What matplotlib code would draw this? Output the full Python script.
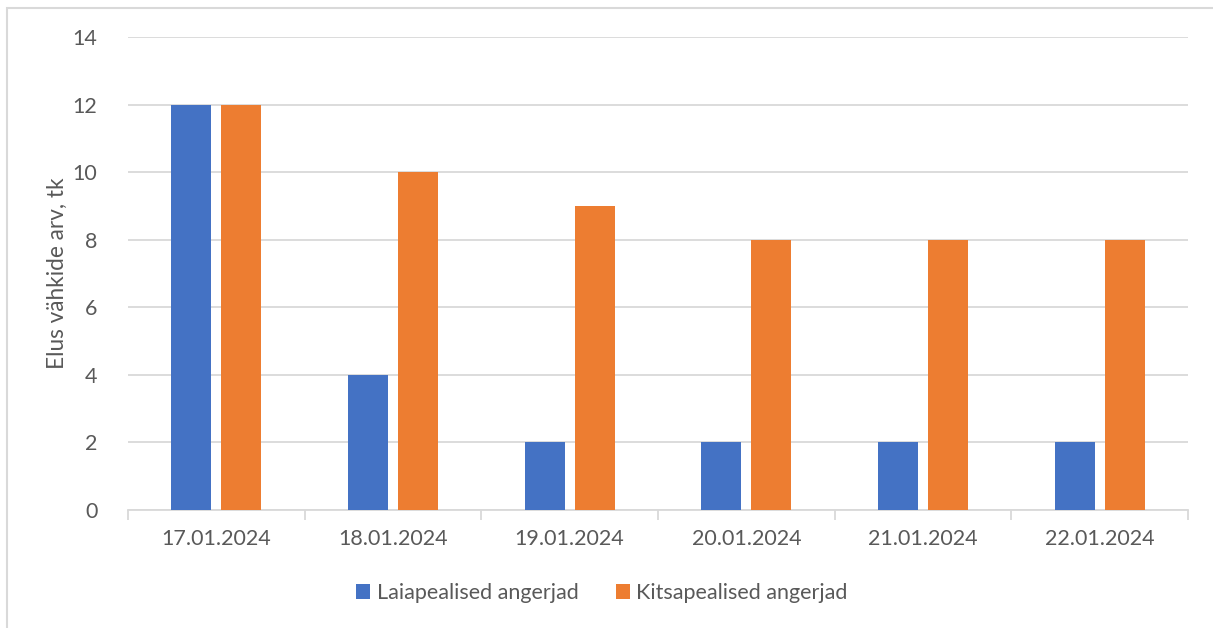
import matplotlib
matplotlib.use("Agg")
import matplotlib.pyplot as plt
import numpy as np
from matplotlib.patches import Rectangle, Patch

dates = ["17.01.2024", "18.01.2024", "19.01.2024", "20.01.2024", "21.01.2024", "22.01.2024"]
laiapealised = [12, 4, 2, 2, 2, 2]
kitsapealised = [12, 10, 9, 8, 8, 8]
series_names = ["Laiapealised angerjad", "Kitsapealised angerjad"]

BLUE = "#4472C4"
ORANGE = "#ED7D31"
GRID = "#D9D9D9"
TEXT = "#595959"

plt.rcParams["font.family"] = ["Lato", "DejaVu Sans"]
FS = 15.5

W, H = 1213, 628
fig = plt.figure(figsize=(W / 100, H / 100), dpi=100)
fig.patch.set_facecolor("white")

# outer chart frame (top and left edges visible)
fig.add_artist(Rectangle((7 / W, -0.1), 1.2, 1 - 8 / H + 0.1, transform=fig.transFigure,
                         fill=False, edgecolor=GRID, linewidth=1.5))

ax = fig.add_axes([128 / W, (H - 510) / H, (1188 - 128) / W, (510 - 37) / H])
x = np.arange(len(dates))
width = 0.226
off = 0.1415
ax.bar(x - off, laiapealised, width, color=BLUE, zorder=3)
ax.bar(x + off, kitsapealised, width, color=ORANGE, zorder=3)

ax.set_xlim(-0.5, len(dates) - 0.5)
ax.set_ylim(0, 14)
ax.set_yticks(range(0, 15, 2))
ax.yaxis.grid(True, color=GRID, linewidth=1.3, zorder=0)
ax.set_axisbelow(True)
for s in ["top", "right", "left"]:
    ax.spines[s].set_visible(False)
ax.spines["bottom"].set_color(GRID)
ax.spines["bottom"].set_linewidth(1.3)

ax.set_xticks(x)
ax.set_xticklabels(dates)
ax.set_xticks(np.arange(-0.5, len(dates), 1.0), minor=True)
ax.tick_params(axis="x", which="major", length=0, pad=14, labelsize=FS, labelcolor=TEXT)
ax.tick_params(axis="x", which="minor", length=7, width=1.3, color=GRID)
ax.tick_params(axis="y", length=0, pad=22, labelsize=FS, labelcolor=TEXT)

# vertical axis title
fig.text(57 / W, 1 - 273 / H, "Elus vähkide arv, tk", rotation=90, ha="center", va="center",
         fontsize=16.3, color=TEXT)

handles = [Patch(facecolor=BLUE, edgecolor="none"), Patch(facecolor=ORANGE, edgecolor="none")]
fig.legend(handles, series_names, loc="center", bbox_to_anchor=(602 / W, 1 - 593 / H),
           ncol=2, frameon=False, fontsize=FS, labelcolor=TEXT,
           handlelength=0.65, handleheight=0.65, handletextpad=0.3, columnspacing=1.75,
           borderpad=0, borderaxespad=0)

fig.savefig("out.png", dpi=100, facecolor="white")
